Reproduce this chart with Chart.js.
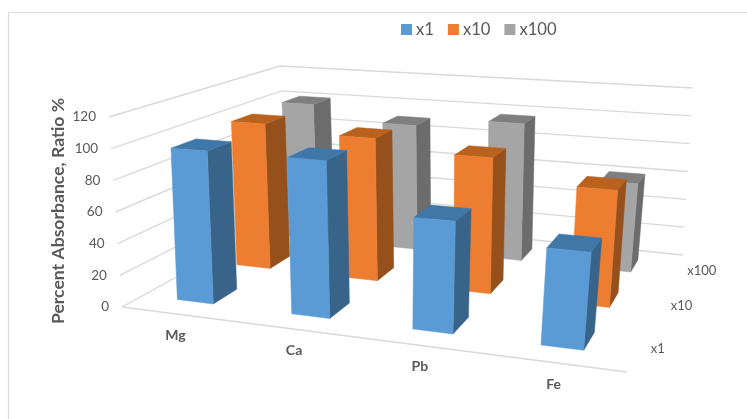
<!DOCTYPE html>
<html>
<head>
<meta charset="utf-8">
<style>
  html, body { margin: 0; background: #fff; }
  canvas { display: block; }
</style>
<script src="https://cdn.jsdelivr.net/npm/chart.js@4"></script>
</head>
<body>
<canvas id="absChart" width="747" height="419"></canvas>
<script>
const elements = ["Mg", "Ca", "Pb", "Fe"];
const dilutions = ["x1", "x10", "x100"];
const x1Values = [97.5, 97.5, 67.5, 57];
const x10Values = [100.5, 96, 89, 74.5];
const x100Values = [101, 90.5, 97, 61];
const valueTicks = [0, 20, 40, 60, 80, 100, 120];
const axisTitle = "Percent Absorbance, Ratio %";

const FONT = "Lato, 'Open Sans', sans-serif";
const TEXT = "#595959";
const GRID = "#d9d9d9";

// corners of the 3D box on the canvas: near-left, near-right, far-right, far-left
const floorQuad = [[122, 307], [627, 372], [683, 255], [289, 215]];
const roofQuad = [[109, 117], [638, 156], [693, 88], [280, 66]];
const BAR_U = 0.08;  // bar width as part of the floor width
const BAR_V = 0.13;  // bar depth as part of the floor depth
const BASE_SHIFT = -0.008;  // bar feet sit a little left of the cell centre

function makeHomography(q) {
    const [[x0, y0], [x1, y1], [x2, y2], [x3, y3]] = q;
    const dx1 = x1 - x2, dx2 = x3 - x2, dx3 = x0 - x1 + x2 - x3;
    const dy1 = y1 - y2, dy2 = y3 - y2, dy3 = y0 - y1 + y2 - y3;
    const den = dx1 * dy2 - dx2 * dy1;
    const g = (dx3 * dy2 - dx2 * dy3) / den;
    const h = (dx1 * dy3 - dx3 * dy1) / den;
    const a = x1 - x0 + g * x1, b = x3 - x0 + h * x3;
    const d = y1 - y0 + g * y1, e = y3 - y0 + h * y3;
    return (u, v) => {
        const w = g * u + h * v + 1;
        return [(a * u + b * v + x0) / w, (d * u + e * v + y0) / w];
    };
}

const floorAt = makeHomography(floorQuad);
const roofAt = makeHomography(roofQuad);

// u across the categories, v into the depth, t up the value axis (all 0..1)
function project(u, v, t) {
    const f = floorAt(u, v), r = roofAt(u, v);
    return [f[0] + (r[0] - f[0]) * t, f[1] + (r[1] - f[1]) * t];
}

function fraction(scale, value) {
    return (scale.getPixelForValue(value) - scale.left) / scale.width;
}

function heightOf(scale, value) {
    return (scale.bottom - scale.getPixelForValue(value)) / scale.height;
}

function face(ctx, pts, color) {
    ctx.beginPath();
    pts.forEach((p, i) => i ? ctx.lineTo(p[0], p[1]) : ctx.moveTo(p[0], p[1]));
    ctx.closePath();
    ctx.fillStyle = color;
    ctx.fill();
    ctx.strokeStyle = color;
    ctx.lineWidth = 0.5;
    ctx.stroke();
}

class Bar3DController extends Chart.BarController {
    draw() {
        const meta = this._cachedMeta;
        const ds = this.getDataset();
        const scales = this.chart.scales;
        const v = fraction(scales.depth, meta.index);
        meta.data.forEach((el, i) => {
            const u = fraction(scales.x, i);
            const t = heightOf(scales.y, this.getParsed(i).y);
            const b0 = u + BASE_SHIFT - BAR_U / 2, b1 = u + BASE_SHIFT + BAR_U / 2;
            const u0 = u - BAR_U / 2, u1 = u + BAR_U / 2;
            const v0 = v - BAR_V / 2, v1 = v + BAR_V / 2;
            face(this.chart.ctx, [project(b1, v0, 0), project(b1, v1, 0), project(u1, v1, t), project(u1, v0, t)], ds.sideColor);
            face(this.chart.ctx, [project(u0, v0, t), project(u1, v0, t), project(u1, v1, t), project(u0, v1, t)], ds.topColor);
            face(this.chart.ctx, [project(b0, v0, 0), project(b1, v0, 0), project(u1, v0, t), project(u0, v0, t)], ds.backgroundColor);
        });
    }
}
Bar3DController.id = "bar3d";
Bar3DController.defaults = Chart.BarController.defaults;
Chart.register(Bar3DController);

// frame, walls, axis labels and legend around the bars
const boxPlugin = {
    id: "box3d",
    beforeDatasetsDraw(chart) {
        const ctx = chart.ctx;
        const { x, y, depth } = chart.scales;

        ctx.save();
        ctx.fillStyle = "#fff";
        ctx.fillRect(0, 0, chart.width, chart.height);

        ctx.strokeStyle = GRID;
        ctx.lineWidth = 1.2;
        ctx.beginPath();
        ctx.moveTo(chart.width, 12.5);
        ctx.lineTo(8.5, 12.5);
        ctx.lineTo(8.5, chart.height);
        ctx.stroke();

        // wall lines for every value tick
        ctx.lineWidth = 1.4;
        ctx.fillStyle = TEXT;
        ctx.font = "13.5px " + FONT;
        ctx.textAlign = "right";
        ctx.textBaseline = "middle";
        y.ticks.forEach(tick => {
            const t = heightOf(y, tick.value);
            const a = project(0, 0, t), b = project(0, 1, t), c = project(1, 1, t);
            ctx.beginPath();
            ctx.moveTo(a[0], a[1]);
            ctx.lineTo(b[0], b[1]);
            ctx.lineTo(c[0], c[1]);
            ctx.stroke();
            ctx.fillText(tick.label, a[0] - 13, a[1]);
        });

        // front edge of the floor
        const fl = project(0, 0, 0), fr = project(1, 0, 0);
        ctx.beginPath();
        ctx.moveTo(fl[0], fl[1]);
        ctx.lineTo(fr[0], fr[1]);
        ctx.stroke();

        ctx.textAlign = "center";
        ctx.font = "bold 14px " + FONT;
        elements.forEach((name, i) => {
            const p = project(fraction(x, i), 0, 0);
            ctx.fillText(name, p[0] - 3.5, p[1] + 21);
        });

        ctx.font = "13px " + FONT;
        dilutions.forEach((name, i) => {
            const p = project(1, fraction(depth, i), 0);
            ctx.fillText(name, p[0] + 19 + 3.5 * i, p[1] + 1);
        });

        ctx.save();
        ctx.translate(58, 211);
        ctx.rotate(-Math.PI / 2);
        ctx.font = "bold 17.6px " + FONT;
        ctx.fillText(axisTitle, 0, 0);
        ctx.restore();

        // legend
        let lx = 401;
        ctx.font = "16.6px " + FONT;
        ctx.textAlign = "left";
        chart.data.datasets.forEach(ds => {
            ctx.fillStyle = ds.backgroundColor;
            ctx.fillRect(lx, 24, 11, 11);
            ctx.fillStyle = TEXT;
            ctx.fillText(ds.label, lx + 15, 29.5);
            lx += 15 + ctx.measureText(ds.label).width + 14;
        });
        ctx.restore();
    }
};

new Chart(document.getElementById("absChart"), {
    type: "bar3d",
    data: {
        labels: elements,
        datasets: [
            { label: dilutions[0], data: x1Values, backgroundColor: "#5b9bd5", topColor: "#4077a9", sideColor: "#38648a" },
            { label: dilutions[1], data: x10Values, backgroundColor: "#ed7d31", topColor: "#b9611f", sideColor: "#95501b" },
            { label: dilutions[2], data: x100Values, backgroundColor: "#a5a5a5", topColor: "#7f7f7f", sideColor: "#6c6c6c" }
        ]
    },
    options: {
        responsive: false,
        animation: false,
        plugins: { legend: { display: false }, tooltip: { enabled: false } },
        scales: {
            x: { type: "category", offset: true, display: false },
            depth: { type: "category", axis: "x", labels: dilutions, offset: true, display: false },
            y: {
                type: "linear",
                display: false,
                min: valueTicks[0],
                max: valueTicks[valueTicks.length - 1],
                ticks: { stepSize: valueTicks[1] - valueTicks[0] }
            }
        }
    },
    plugins: [boxPlugin]
});
</script>
</body>
</html>
